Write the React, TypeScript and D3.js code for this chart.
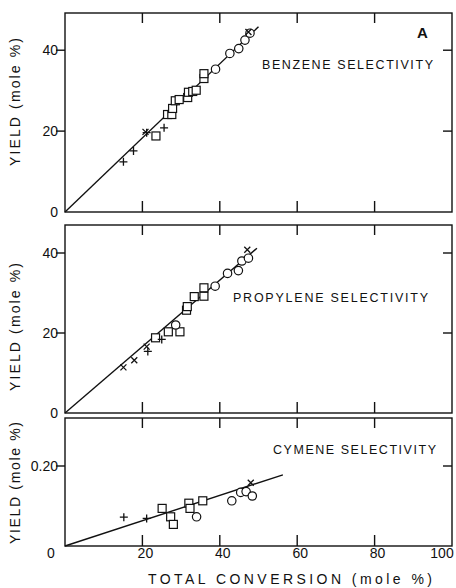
import React from "react";
import * as d3 from "d3";

// conversion ticks shared by all panels
const xTicks = [0, 20, 40, 60, 80, 100];

// benzene yield vs total conversion
const benzenePlus = [[15.1, 12.4], [17.7, 15.1], [21.1, 19.6], [25.6, 20.8]];
const benzeneCross = [[20.8, 19.8], [47.4, 44.5]];
const benzeneSquare = [
  [23.5, 18.8], [26.5, 24.1], [27.6, 24.1], [27.8, 25.6], [28.5, 27.5], [29.5, 27.8],
  [31.7, 28.3], [31.9, 29.6], [33.0, 29.8], [33.9, 30.1], [35.9, 33.0], [35.9, 34.2],
];
const benzeneCircle = [[38.9, 35.3], [42.6, 39.2], [44.9, 40.4], [46.5, 42.5], [47.8, 44.2]];
const benzeneFit = [[0, 0], [50, 45.8]];

// propylene yield vs total conversion
const propylenePlus = [[25.0, 18.4], [21.4, 15.4]];
const propyleneCross = [[15.1, 11.4], [17.9, 13.2], [21.1, 16.6], [47.1, 40.8]];
const propyleneSquare = [
  [23.4, 18.8], [26.7, 20.3], [29.7, 20.3], [31.4, 25.7], [31.6, 26.6],
  [33.4, 29.1], [35.9, 29.2], [35.9, 31.3],
];
const propyleneCircle = [[28.6, 22.0], [38.8, 31.7], [42.0, 34.9], [44.8, 35.6], [45.7, 38.0], [47.4, 38.7]];
const propyleneFit = [[0, 0], [49.6, 41.2]];

// cymene yield vs total conversion
const cymenePlus = [[15.2, 0.072], [21.1, 0.069]];
const cymeneCross = [[48.0, 0.158]];
const cymeneSquare = [[25.1, 0.094], [27.3, 0.073], [28.0, 0.054], [32.0, 0.107], [32.3, 0.094], [35.6, 0.113]];
const cymeneCircle = [[34.0, 0.073], [43.1, 0.113], [45.4, 0.134], [46.8, 0.136], [48.4, 0.125]];
const cymeneFit = [[0, 0], [56.3, 0.178]];

const FONT = "'Liberation Sans', Arial, sans-serif";
const L = 65;
const R = 452;

const x = d3.scaleLinear().domain([0, 100]).range([L, R]);

type Pt = number[];

const panels = [
  {
    top: 13, bottom: 212, yMax: 49.2, yTicks: [20, 40], yLabels: ["0", "20", "40"],
    title: "BENZENE SELECTIVITY", tx: 262, ty: 69, tw: 171,
    plus: benzenePlus, cross: benzeneCross, square: benzeneSquare, circle: benzeneCircle, fit: benzeneFit,
  },
  {
    top: 225, bottom: 413, yMax: 47, yTicks: [20, 40], yLabels: ["0", "20", "40"],
    title: "PROPYLENE SELECTIVITY", tx: 233, ty: 302, tw: 195,
    plus: propylenePlus, cross: propyleneCross, square: propyleneSquare, circle: propyleneCircle, fit: propyleneFit,
  },
  {
    top: 418, bottom: 546, yMax: 0.32, yTicks: [0.2], yLabels: ["0.20"],
    title: "CYMENE SELECTIVITY", tx: 273, ty: 454, tw: 163,
    plus: cymenePlus, cross: cymeneCross, square: cymeneSquare, circle: cymeneCircle, fit: cymeneFit,
  },
];

const stroke = "#111";

const Panel = ({ p, idx }: { p: (typeof panels)[number]; idx: number }) => {
  const y = d3.scaleLinear().domain([0, p.yMax]).range([p.bottom, p.top]);
  const line = d3.line<Pt>().x((d) => x(d[0])).y((d) => y(d[1]));
  const inner = [20, 40, 60, 80];
  const yLab = idx === 2 ? [0.2] : [0, 20, 40];
  return (
    <g>
      <rect x={L} y={p.top} width={R - L} height={p.bottom - p.top} fill="none" stroke={stroke} strokeWidth={1.4} />
      {inner.map((t) => (
        <g key={t}>
          <line x1={x(t)} x2={x(t)} y1={p.top} y2={p.top + 10} stroke={stroke} strokeWidth={1.4} />
          <line x1={x(t)} x2={x(t)} y1={p.bottom} y2={p.bottom - 11} stroke={stroke} strokeWidth={1.4} />
        </g>
      ))}
      {p.yTicks.map((t) => (
        <g key={t}>
          <line x1={L - 9} x2={L} y1={y(t)} y2={y(t)} stroke={stroke} strokeWidth={1.4} />
          <line x1={R - 9} x2={R} y1={y(t)} y2={y(t)} stroke={stroke} strokeWidth={1.4} />
        </g>
      ))}
      {yLab.map((t, i) => (
        <text key={t} x={L - 7} y={y(t) + 5} textAnchor="end" fontSize={14} fontFamily={FONT} fill={stroke}>
          {p.yLabels[i]}
        </text>
      ))}
      <text
        transform={`translate(20,${idx === 0 ? 102 : idx === 1 ? 327 : 483}) rotate(-90)`}
        textAnchor="middle" fontSize={14} fontFamily={FONT} fill={stroke}
        textLength={idx === 2 ? 122 : 128} lengthAdjust="spacing"
      >
        YIELD (mole %)
      </text>
      <text x={p.tx} y={p.ty} fontSize={12.5} fontFamily={FONT} fill={stroke} textLength={p.tw} lengthAdjust="spacing">
        {p.title}
      </text>
      <path d={line(p.fit as Pt[]) || ""} fill="none" stroke={stroke} strokeWidth={1.4} />
      {p.square.map((d, i) => (
        <rect key={"s" + i} x={x(d[0]) - 4} y={y(d[1]) - 4} width={8} height={8} fill="white" stroke={stroke} strokeWidth={1.2} />
      ))}
      {p.circle.map((d, i) => (
        <circle key={"c" + i} cx={x(d[0])} cy={y(d[1])} r={4.2} fill="white" stroke={stroke} strokeWidth={1.2} />
      ))}
      {p.plus.map((d, i) => (
        <path key={"p" + i} d={`M${x(d[0]) - 4},${y(d[1])}h8M${x(d[0])},${y(d[1]) - 4}v8`} stroke={stroke} strokeWidth={1.3} />
      ))}
      {p.cross.map((d, i) => (
        <path key={"x" + i} d={`M${x(d[0]) - 3},${y(d[1]) - 3}l6,6M${x(d[0]) + 3},${y(d[1]) - 3}l-6,6`} stroke={stroke} strokeWidth={1.3} />
      ))}
    </g>
  );
};

const App = () => {
  return (
    <svg width={456} height={588} style={{ position: "absolute", left: 0, top: 0, background: "white" }}>
      <rect width={456} height={588} fill="white" />
      {panels.map((p, i) => (
        <Panel key={i} p={p} idx={i} />
      ))}
      <text x={417} y={38} fontSize={15} fontWeight="bold" fontFamily={FONT} fill={stroke}>A</text>
      {xTicks.map((t) => (
        <text key={t} x={t === 0 ? 51 : t === 100 ? 442 : x(t) + 3} y={558} textAnchor="middle" fontSize={14} fontFamily={FONT} fill={stroke}>
          {t}
        </text>
      ))}
      <text x={148} y={584} fontSize={14} fontFamily={FONT} fill={stroke} textLength={284} lengthAdjust="spacing">
        TOTAL CONVERSION (mole %)
      </text>
    </svg>
  );
};

export default App;
